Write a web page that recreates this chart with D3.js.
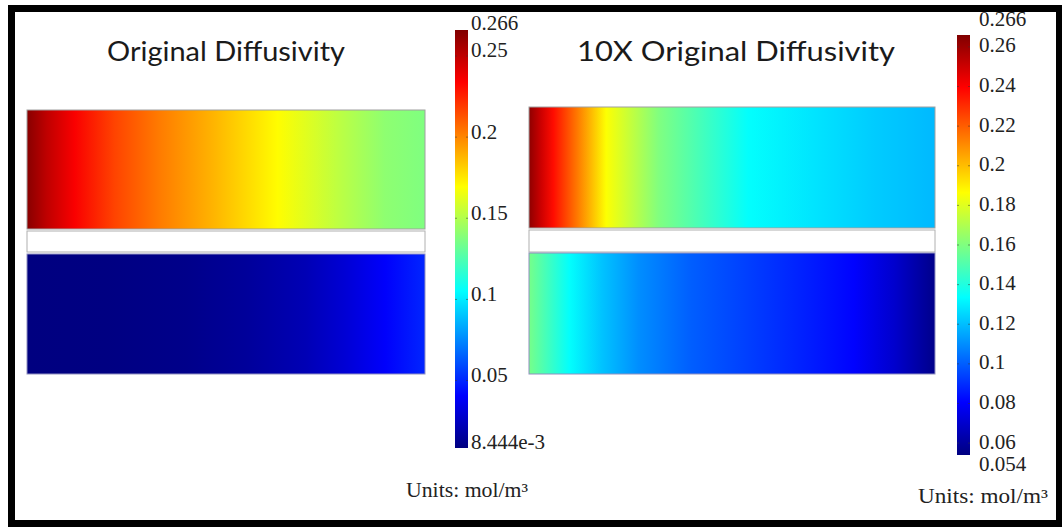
<!DOCTYPE html>
<html>
<head>
<meta charset="utf-8">
<script src="https://cdn.jsdelivr.net/npm/d3@7"></script>
<style>
  html, body { margin: 0; padding: 0; background: #ffffff; }
  svg { display: block; }
</style>
</head>
<body>
<svg id="chart" width="1062" height="527"></svg>
<script>
// ---------------- DATA ----------------
const panelTitles = ["Original Diffusivity", "10X Original Diffusivity"];
const unitsLabel = "Units: mol/m\u00B3";

// colour ranges (mol/m^3)
const leftRange = [0.008444, 0.266];
const rightRange = [0.054, 0.266];
const leftTicks = [0.25, 0.2, 0.15, 0.1, 0.05];
const rightTicks = [0.26, 0.24, 0.22, 0.2, 0.18, 0.16, 0.14, 0.12, 0.1, 0.08, 0.06];
const leftMinLabel = "8.444e-3";
const leftMaxLabel = "0.266";
const rightMinLabel = "0.054";
const rightMaxLabel = "0.266";

// concentration profiles along x (fraction of width -> value)
const leftTopPos =    [0, 0.05, 0.12, 0.22, 0.33, 0.47, 0.63, 0.78, 0.90, 1.0];
const leftTopVal =    [0.264, 0.250, 0.235, 0.217, 0.203, 0.188, 0.170, 0.153, 0.141, 0.137];
const leftBotPos =    [0, 0.2, 0.4, 0.55, 0.7, 0.8, 0.9, 1.0];
const leftBotVal =    [0.0085, 0.009, 0.011, 0.015, 0.022, 0.030, 0.040, 0.050];
const rightTopPos =   [0, 0.03, 0.06, 0.12, 0.19, 0.32, 0.43, 0.54, 0.70, 0.85, 1.0];
const rightTopVal =   [0.263, 0.250, 0.237, 0.214, 0.186, 0.160, 0.147, 0.134, 0.128, 0.123, 0.119];
const rightBotPos =   [0, 0.05, 0.10, 0.18, 0.27, 0.40, 0.55, 0.70, 0.80, 0.90, 1.0];
const rightBotVal =   [0.158, 0.146, 0.134, 0.121, 0.110, 0.100, 0.093, 0.086, 0.081, 0.070, 0.056];

// jet colormap anchors
const jetStops = [0, 0.125, 0.375, 0.625, 0.875, 1];
const jetColors = ["#000080", "#0000ff", "#00ffff", "#ffff00", "#ff0000", "#800000"];

// ---------------- DRAW ----------------
const svg = d3.select("#chart");
const defs = svg.append("defs");
const jet = d3.scaleLinear().domain(jetStops).range(jetColors).interpolate(d3.interpolateRgb).clamp(true);

svg.append("rect").attr("x", 11.5).attr("y", 8.5).attr("width", 1048).attr("height", 515)
  .attr("fill", "#ffffff").attr("stroke", "#000000").attr("stroke-width", 7);

const serif = "'Liberation Serif', 'Times New Roman', serif";

const panels = [
  {title: panelTitles[0], tx: 226, tw: 238, x0: 27, x1: 425, top: [110, 229], gap: [231, 252], bot: [254, 374],
   range: leftRange, topPos: leftTopPos, topVal: leftTopVal, botPos: leftBotPos, botVal: leftBotVal,
   bar: {x: 455, w: 13, y0: 30, y1: 448}, ticks: leftTicks, lx: 471, off: -6,
   minLabel: leftMinLabel, maxLabel: leftMaxLabel, minY: 442, maxY: 23,
   units: {x: 406, y: 490, w: 122}},
  {title: panelTitles[1], tx: 736, tw: 318, x0: 529, x1: 935, top: [107, 228], gap: [230, 252], bot: [253, 374],
   range: rightRange, topPos: rightTopPos, topVal: rightTopVal, botPos: rightBotPos, botVal: rightBotVal,
   bar: {x: 957, w: 13, y0: 35, y1: 455}, ticks: rightTicks, lx: 979, off: -2,
   minLabel: rightMinLabel, maxLabel: rightMaxLabel, minY: 464, maxY: 19,
   units: {x: 918, y: 496, w: 130}}
];

panels.forEach((p, i) => {
  const norm = d3.scaleLinear().domain(p.range).range([0, 1]);
  const xs = d3.scaleLinear().domain([0, 1]).range([p.x0, p.x1]);

  // title
  svg.append("text").attr("x", p.tx).attr("y", 50)
    .attr("text-anchor", "middle").attr("dominant-baseline", "central")
    .attr("textLength", p.tw).attr("lengthAdjust", "spacingAndGlyphs")
    .style("font-family", "Lato, 'Open Sans', sans-serif").style("font-size", "27px")
    .attr("fill", "#1a1a1a").text(p.title);

  // field gradients
  function makeGrad(id, pos, val) {
    const g = defs.append("linearGradient").attr("id", id)
      .attr("x1", 0).attr("x2", 1).attr("y1", 0).attr("y2", 0);
    pos.forEach((f, k) => {
      g.append("stop").attr("offset", f).attr("stop-color", jet(norm(val[k])));
    });
  }
  makeGrad("gtop" + i, p.topPos, p.topVal);
  makeGrad("gbot" + i, p.botPos, p.botVal);

  svg.append("rect").attr("x", xs(0)).attr("y", p.top[0]).attr("width", xs(1) - xs(0))
    .attr("height", p.top[1] - p.top[0]).attr("fill", `url(#gtop${i})`)
    .attr("stroke", "#a0a0a0").attr("stroke-width", 1);
  svg.append("rect").attr("x", xs(0)).attr("y", p.gap[0]).attr("width", xs(1) - xs(0))
    .attr("height", p.gap[1] - p.gap[0]).attr("fill", "#ffffff")
    .attr("stroke", "#b0b0b0").attr("stroke-width", 1);
  svg.append("rect").attr("x", xs(0)).attr("y", p.bot[0]).attr("width", xs(1) - xs(0))
    .attr("height", p.bot[1] - p.bot[0]).attr("fill", `url(#gbot${i})`)
    .attr("stroke", "#9090c0").attr("stroke-width", 1);

  // colorbar
  const cg = defs.append("linearGradient").attr("id", "cbar" + i)
    .attr("x1", 0).attr("x2", 0).attr("y1", 1).attr("y2", 0);
  jetStops.forEach((s, k) => cg.append("stop").attr("offset", s).attr("stop-color", jetColors[k]));
  const b = p.bar;
  svg.append("rect").attr("x", b.x).attr("y", b.y0).attr("width", b.w).attr("height", b.y1 - b.y0)
    .attr("fill", `url(#cbar${i})`);

  const ys = d3.scaleLinear().domain(p.range).range([b.y1, b.y0]);
  const axis = d3.axisRight(ys).tickValues(p.ticks).tickSize(0).tickFormat(d => String(d));
  const ag = svg.append("g").attr("transform", `translate(${p.lx},0)`).call(axis);
  ag.select(".domain").remove();
  ag.selectAll(".tick text").attr("x", 0).attr("dy", null).attr("y", p.off)
    .attr("dominant-baseline", "central")
    .style("font-family", serif).style("font-size", "21px")
    .attr("fill", "#222");
  // small tick marks on bar edges
  p.ticks.forEach(v => {
    svg.append("line").attr("x1", b.x).attr("x2", b.x + 2).attr("y1", ys(v)).attr("y2", ys(v))
      .attr("stroke", "#333").attr("stroke-opacity", 0.5);
    svg.append("line").attr("x1", b.x + b.w - 2).attr("x2", b.x + b.w).attr("y1", ys(v)).attr("y2", ys(v))
      .attr("stroke", "#333").attr("stroke-opacity", 0.5);
  });
  // extreme labels
  [[p.maxLabel, p.maxY], [p.minLabel, p.minY]].forEach(([t, y]) => {
    svg.append("text").attr("x", p.lx).attr("y", y).attr("dominant-baseline", "central")
      .style("font-family", serif).style("font-size", "21px")
      .attr("fill", "#222").text(t);
  });

  // units
  svg.append("text").attr("x", p.units.x).attr("y", p.units.y).attr("dominant-baseline", "central")
    .attr("textLength", p.units.w).attr("lengthAdjust", "spacingAndGlyphs")
    .style("font-family", serif).style("font-size", "20px")
    .attr("fill", "#222").text(unitsLabel);
});
</script>
</body>
</html>
